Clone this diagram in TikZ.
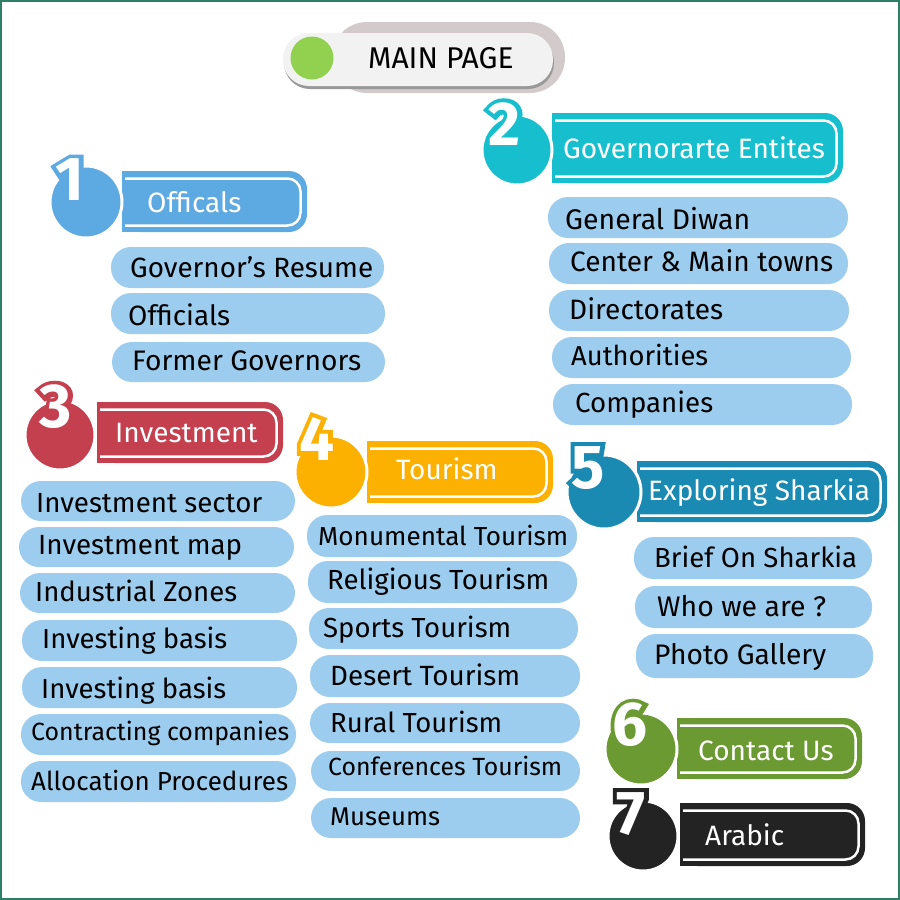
\documentclass[tikz,border=0pt]{standalone}
\usepackage{graphicx}
\usepackage{fontspec}
\setmainfont{Fira Sans}
\newfontface\digitout[FakeBold=14]{Fira Sans Bold}
\definecolor{framec}{HTML}{2D7F66}
\definecolor{pillc}{HTML}{9DCDEE}
\definecolor{cOne}{HTML}{5DA9E1}
\definecolor{cTwo}{HTML}{17BFCE}
\definecolor{cThree}{HTML}{C5404F}
\definecolor{cFour}{HTML}{FCB000}
\definecolor{cFive}{HTML}{1A8AB2}
\definecolor{cSix}{HTML}{6A9A31}
\definecolor{cSeven}{HTML}{232323}
\definecolor{mainc}{HTML}{F2F2F2}
\definecolor{mainshadow}{HTML}{D3CACB}
\definecolor{greenc}{HTML}{92D050}
\tikzset{
  pillbox/.style={fill=pillc, rounded corners=20pt, inner sep=0pt, outer sep=0pt},
  pilltext/.style={inner sep=0pt, text=black, font=\fontsize{26}{30}\selectfont},
  headtext/.style={inner sep=0pt, text=white, font=\fontsize{28}{32}\selectfont},
  digitstyle/.style={inner sep=0pt, font=\fontsize{62}{66}\selectfont\bfseries},
  digitrim/.style={inner sep=0pt, font=\fontsize{62}{66}\digitout},
  ringc/.style={circle, draw=white, line width=3pt, inner sep=0pt}
}
% name, x1, y1, x2, y2, text x, baseline, text, text width
\newcommand\pillitem[9]{%
  \node[pillbox, minimum width={#4-#2}, minimum height={#5-#3}] (#1) at ({(#2+#4)/2},{(#3+#5)/2}) {};
  \node[pilltext, anchor=base west] (#1t) at (#6,#7) {\resizebox{#9pt}{!}{#8}};}
% name, colour, x1, y1, x2, y2, text, text x, baseline
\newcommand\hbanner[9]{%
  \fill[#2, rounded corners=18pt] (#3,#4) rectangle (#5,#6);
  \fill[#2] (#3,#4) rectangle ({#3+30},#6);
  \draw[white, line width=2.5pt, rounded corners=13pt] ({#3+3},{#4+7.5}) -- ({#5-6.5},{#4+7.5}) -- ({#5-6.5},{#6-6.5}) -- ({#3+3},{#6-6.5});
  \node[headtext, anchor=base west] (#1) at (#8,#9) {#7};}
% name, colour, cx, cy, r, digit, dx, dy
\newcommand\hcircle[8]{%
  \node[ringc, fill=#2, minimum size={2*#5}] (#1) at (#3,#4) {};
  \node[digitrim, text=#2] (#1r) at (#7,#8) {#6};
  \node[digitstyle, text=white] (#1d) at (#7,#8) {#6};}
\begin{document}
\begin{tikzpicture}[x=1pt,y=-1pt]
\useasboundingbox (0,0) rectangle (900,900);
\fill[white] (0,0) rectangle (900,900);
\draw[framec, line width=2pt] (1,1) rectangle (899,899);

% main page
\fill[mainshadow, rounded corners=35pt] (332,22) rectangle (565,93);
\fill[black!40, rounded corners=26pt] (284,36) rectangle (554,89);
\node[fill=mainc, rounded corners=26pt, minimum width=270, minimum height=53, inner sep=0pt] (main) at (418,59.5) {};
\node[circle, fill=greenc, minimum size=43, inner sep=0pt] (maindot) at (312,58) {};
\node[inner sep=0pt, anchor=base west, font=\fontsize{30}{34}\selectfont] (maintext) at (368,68.3) {MAIN PAGE};

% header 1
\hbanner{h1}{cOne}{122}{171}{307}{232}{Officals}{147}{212.7}
\hcircle{c1}{cOne}{86}{202}{36}{1}{70}{180}
\pillitem{p11}{111}{247}{384}{288}{130}{277}{Governor’s Resume}{243}
\pillitem{p12}{111}{293}{385}{334}{128}{325}{Officials}{102}
\pillitem{p13}{112}{342}{385}{382}{132}{370}{Former Governors}{229}

% header 2
\hbanner{h2}{cTwo}{552}{113}{843}{183}{Governorarte Entites}{563}{158}
\hcircle{c2}{cTwo}{517}{150}{35}{2}{505}{124}
\pillitem{p21}{548}{197}{848}{238}{565}{229.3}{General Diwan}{185}
\pillitem{p22}{549}{243}{848}{284}{570}{271.7}{Center \& Main towns}{263}
\pillitem{p23}{549}{290}{849}{331}{569}{319.3}{Directorates}{154}
\pillitem{p24}{552}{337}{851}{378}{571}{365.7}{Authorities}{137}
\pillitem{p25}{553}{384}{852}{425}{575}{412.7}{Companies}{138}

% header 3
\hbanner{h3}{cThree}{97}{402}{283}{463}{Investment}{115}{442}
\hcircle{c3}{cThree}{60}{435}{35}{3}{56}{407}
\pillitem{p31}{21}{481}{295}{521}{36}{512}{Investment sector}{226}
\pillitem{p32}{19}{527}{294}{567}{38}{554}{Investment map}{204}
\pillitem{p33}{20}{573}{295}{613}{35}{601}{Industrial Zones}{202}
\pillitem{p34}{22}{620}{297}{661}{42}{648}{Investing basis}{185}
\pillitem{p35}{22}{667}{297}{708}{41}{698}{Investing basis}{185}
\pillitem{p36}{21}{714}{296}{755}{31}{740.7}{Contracting companies}{258}
\pillitem{p37}{21}{761}{296}{802}{31}{790}{Allocation Procedures}{257}

% header 4
\hbanner{h4}{cFour}{367}{441}{553}{503}{Tourism}{396}{479}
\hcircle{c4}{cFour}{331}{472}{36}{4}{317}{439}
\pillitem{p41}{307}{515}{577}{557}{318}{545}{Monumental Tourism}{250}
\pillitem{p42}{308}{561}{577}{603}{327}{589.3}{Religious Tourism}{222}
\pillitem{p43}{309}{608}{578}{649}{323}{637.7}{Sports Tourism}{188}
\pillitem{p44}{310}{655}{580}{697}{330}{685}{Desert Tourism}{190}
\pillitem{p45}{310}{703}{580}{743}{330}{732.7}{Rural Tourism}{172}
\pillitem{p46}{311}{751}{580}{791}{328}{775.7}{Conferences Tourism}{234}
\pillitem{p47}{311}{798}{580}{838}{330}{825}{Museums}{110}

% header 5
\hbanner{h5}{cFive}{637}{461}{887}{522}{Exploring Sharkia}{648}{500.7}
\hcircle{c5}{cFive}{604}{492}{37}{5}{588}{468}
\pillitem{p51}{634}{537}{872}{579}{654}{567}{Brief On Sharkia}{203}
\pillitem{p52}{635}{586}{872}{628}{657}{616}{Who we are ?}{169}
\pillitem{p53}{636}{634}{873}{678}{654}{664}{Photo Gallery}{172}

% header 6
\hbanner{h6}{cSix}{677}{718}{862}{779}{Contact Us}{698}{760}
\hcircle{c6}{cSix}{641}{749}{36}{6}{630}{725}

% header 7
\hbanner{h7}{cSeven}{680}{803}{865}{866}{Arabic}{705}{845.7}
\hcircle{c7}{cSeven}{643}{836}{35}{7}{631}{814}
\end{tikzpicture}
\end{document}
